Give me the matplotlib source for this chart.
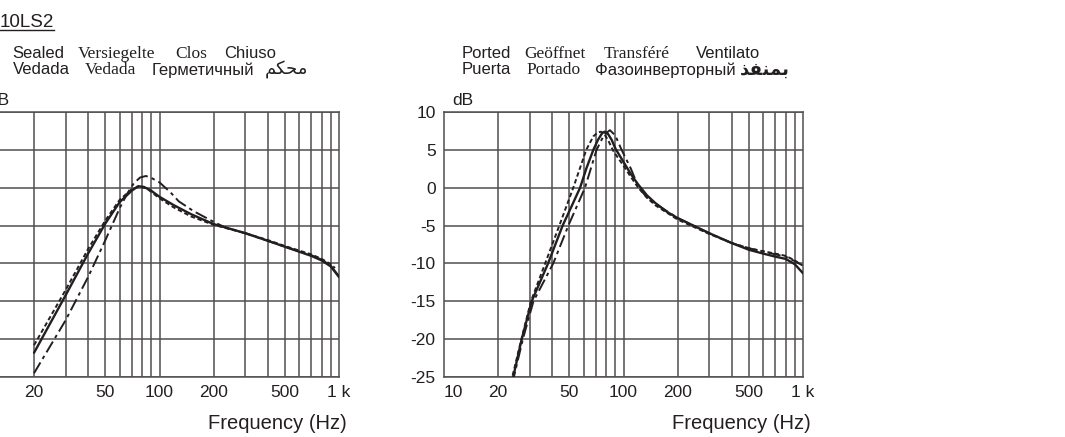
import matplotlib
matplotlib.use('Agg')
import matplotlib.pyplot as plt
from matplotlib.ticker import FixedLocator, NullLocator

W, H = 1065, 437

# ---------------- data ----------------
title = "10LS2"
x_ticks = [10, 20, 50, 100, 200, 500, 1000]
x_tick_labels = ["10", "20", "50", "100", "200", "500", "1 k"]
y_ticks = [10, 5, 0, -5, -10, -15, -20, -25]
y_tick_labels = ["10", "5", "0", "-5", "-10", "-15", "-20", "-25"]
grid_minor_freqs = [20, 30, 40, 50, 60, 70, 80, 90, 100, 200, 300, 400, 500, 600, 700, 800, 900]

sealed_line1 = [("Sealed", "sans"), ("Versiegelte", "serif"), ("Clos", "serif"), ("Chiuso", "sans")]
sealed_line2 = [("Vedada", "sans"), ("Vedada", "serif"), ("Герметичный", "cyr"),
                ("\uFEE2\uFEDC\uFEA4\uFEE3", "arabic")]
ported_line1 = [("Ported", "sans"), ("Geöffnet", "serif"), ("Transféré", "serif"), ("Ventilato", "sans")]
ported_line2 = [("Puerta", "sans"), ("Portado", "serif"), ("Фазоинверторный", "cyr"),
                ("\uFEAC\uFED4\uFEE8\uFEE4\uFE91", "arabic2")]

sealed_solid_f = [20, 30, 40, 50, 60, 70, 76, 82, 90, 100, 120, 150, 200, 300, 400, 500, 600, 700, 800, 900, 1000]
sealed_solid_db = [-21.8, -14.2, -8.7, -4.7, -1.9, -0.4, 0.2, 0.1, -0.4, -1.2, -2.3, -3.5, -4.8, -6.0, -7.0,
                   -7.8, -8.45, -9.0, -9.6, -10.4, -11.8]
sealed_short_f = [20, 30, 40, 50, 60, 70, 77, 85, 100, 120, 150, 200, 300, 400, 500, 600, 700, 800, 900, 950]
sealed_short_db = [-20.8, -13.5, -8.1, -4.3, -1.6, -0.2, 0.15, -0.1, -1.4, -2.6, -3.8, -4.9, -6.0, -6.9, -7.7,
                   -8.3, -8.8, -9.4, -10.1, -10.6]
sealed_long_f = [20, 30, 40, 50, 60, 66, 72, 78, 84, 90, 100, 115, 128, 155, 200, 230, 300, 400, 500, 600, 700,
                 800, 900, 1000]
sealed_long_db = [-24.5, -17.5, -11.8, -6.9, -2.7, -0.8, 0.6, 1.35, 1.55, 1.3, 0.7, -0.6, -1.8, -3.1, -4.5, -5.2,
                  -6.0, -7.0, -7.8, -8.4, -8.9, -9.5, -10.3, -11.7]

ported_solid_f = [22, 24.3, 27.1, 30.8, 38, 45.8, 51.5, 57.3, 62, 67.9, 72, 76, 78.5, 82, 86, 90, 100, 110,
                  120, 135, 150, 175, 200, 250, 300, 400, 500, 600, 700, 800, 900, 1000]
ported_solid_db = [-28.5, -25, -20, -15, -10, -5, -2.4, 0, 2.5, 5, 6.3, 7.2, 7.4, 7.1, 6.3, 5.2, 3.4, 1.8,
                   0.5, -1.0, -2.0, -3.2, -4.0, -5.1, -6.0, -7.3, -8.2, -8.7, -9.1, -9.4, -10.1, -11.3]
ported_short_f = [22, 24, 27, 30.5, 36.6, 43.9, 52.5, 62, 68, 72, 75, 78, 82, 88, 100, 110, 120, 135, 150,
                  200, 300, 400, 500, 600, 700, 800, 900, 950]
ported_short_db = [-28.5, -25, -20, -15, -10, -5, 0, 5, 6.8, 7.3, 7.4, 7.1, 6.3, 4.8, 2.9, 1.4, 0.1, -1.3,
                   -2.3, -4.2, -6.1, -7.3, -8.0, -8.4, -8.7, -9.0, -9.6, -10.0]
ported_long_f = [22, 24.5, 27.5, 31.5, 40.6, 49.3, 61, 70.8, 78, 84, 90, 97.6, 110, 121, 135, 150, 200,
                 300, 400, 500, 600, 700, 800, 900, 1000]
ported_long_db = [-29, -25, -20, -15, -10, -5, 0, 5, 7.0, 7.6, 6.9, 5.0, 2.5, 0.1, -1.3, -2.1, -4.0,
                  -6.0, -7.3, -8.0, -8.4, -8.8, -9.1, -9.7, -10.3]

# ---------------- style ----------------
plt.rcParams['lines.scale_dashes'] = False
SANS = ['Liberation Sans', 'DejaVu Sans']
SERIF = ['Liberation Serif', 'DejaVu Serif']
ARABIC = ['DejaVu Sans']
GRID = '#524e4e'
INK = '#231f20'
fonts = {"sans": (SANS, 12, 'normal'), "serif": (SERIF, 12.5, 'normal'), "cyr": (SANS, 12, 'normal'),
         "arabic": (ARABIC, 13, 'normal'), "arabic2": (ARABIC, 13, 'bold')}

fig = plt.figure(figsize=(W / 100, H / 100), dpi=100)


def px(x, y):
    return x / W, 1 - y / H


def make_axes(left_px, series):
    ax = fig.add_axes([left_px / W, (H - 377) / H, 359 / W, 265 / H])
    ax.set_xscale('log')
    ax.set_xlim(10, 1000)
    ax.set_ylim(-25, 10)
    ax.xaxis.set_major_locator(FixedLocator(x_ticks))
    ax.xaxis.set_minor_locator(NullLocator())
    ax.set_xticklabels(x_tick_labels)
    ax.set_yticks(y_ticks)
    ax.set_yticklabels(y_tick_labels)
    ax.tick_params(length=0, labelsize=12.5, colors=INK, pad=6)
    for lab in ax.get_xticklabels() + ax.get_yticklabels():
        lab.set_family(SANS)
    xl = ax.get_xticklabels()
    xl[0].set_horizontalalignment('left')
    for f in grid_minor_freqs:
        ax.axvline(f, color=GRID, lw=1.1, zorder=1)
    for v in y_ticks:
        ax.axhline(v, color=GRID, lw=1.1, zorder=1)
    for s in ax.spines.values():
        s.set_color(GRID)
        s.set_linewidth(1.1)
    (sf, sd), (hf, hd), (lf, ld) = series
    ax.plot(sf, sd, color=INK, lw=1.7, zorder=3, solid_capstyle='round')
    l2, = ax.plot(hf, hd, color=INK, lw=1.4, zorder=3)
    l2.set_dashes((3.2, 2.0))
    l3, = ax.plot(lf, ld, color=INK, lw=1.4, zorder=3)
    l3.set_dashes((9, 3, 2.5, 3))
    return ax


ax1 = make_axes(-20, [(sealed_solid_f, sealed_solid_db), (sealed_short_f, sealed_short_db),
                      (sealed_long_f, sealed_long_db)])
ax2 = make_axes(444, [(ported_solid_f, ported_solid_db), (ported_short_f, ported_short_db),
                      (ported_long_f, ported_long_db)])

# dB labels
fig.text(*px(-12, 105), "dB", fontsize=12.5, family=SANS, color=INK, va='baseline')
fig.text(*px(452, 105), "dB", fontsize=12.5, family=SANS, color=INK, va='baseline')

# Frequency labels
fig.text(*px(347, 429), "Frequency (Hz)", fontsize=14.5, family=SANS, color=INK, ha='right', va='baseline')
fig.text(*px(811, 429), "Frequency (Hz)", fontsize=14.5, family=SANS, color=INK, ha='right', va='baseline')

# title with underline
t = fig.text(*px(0, 27), title, fontsize=13.5, family=SANS, color=INK, va='baseline')
fig.canvas.draw()
bb = t.get_window_extent()
fig.add_artist(plt.Line2D([bb.x0 / W, bb.x1 / W], [1 - 29.5 / H, 1 - 29.5 / H], color=INK, lw=1.0,
                          transform=fig.transFigure))

# header words
sealed_x1 = [12.7, 77.3, 175.7, 224]
sealed_x2 = [12.7, 85, 151.7, 265]
ported_x1 = [461.7, 524, 603.3, 695.7]
ported_x2 = [461.7, 526.7, 595, 740]
for words, xs, yb in [(sealed_line1, sealed_x1, 57.5), (sealed_line2, sealed_x2, 74.5),
                      (ported_line1, ported_x1, 57.5), (ported_line2, ported_x2, 74.5)]:
    for (w, kind), x in zip(words, xs):
        fam, size, weight = fonts[kind]
        fig.text(*px(x, yb), w, fontsize=size, family=fam, fontweight=weight, color=INK, va='baseline')

fig.savefig('out.png', dpi=100)
